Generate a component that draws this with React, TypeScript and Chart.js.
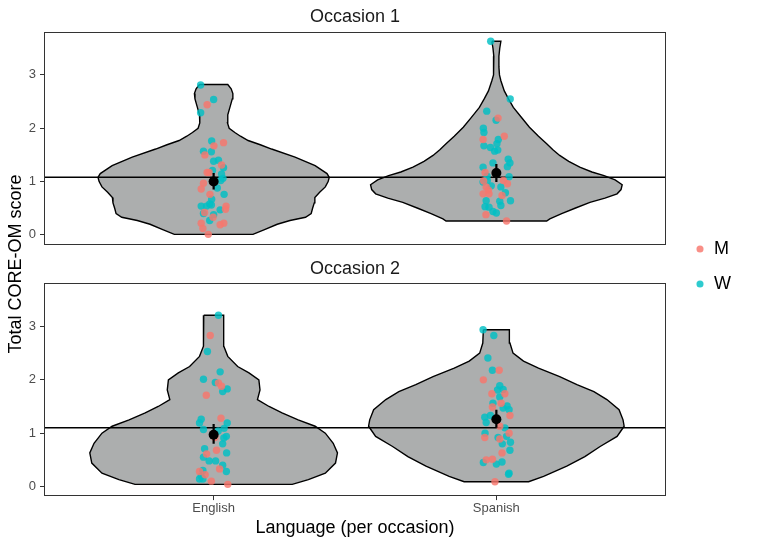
import React, { useEffect, useRef } from 'react';
import { Chart, registerables } from 'chart.js';

Chart.register(...registerables);

// ---------------- data ----------------
const categories = ['English', 'Spanish'];
const occasions = ['Occasion 1', 'Occasion 2'];
const genders = ['M', 'W'];
const yTickValues = [0, 1, 2, 3];

// horizontal reference line (overall mean) per occasion
const overallMean = [1.08, 1.1];

// mean and interval per occasion [English, Spanish]
const meanOcc1 = [1.0, 1.16];
const lowOcc1 = [0.85, 0.99];
const highOcc1 = [1.16, 1.33];
const meanOcc2 = [0.97, 1.26];
const lowOcc2 = [0.8, 1.1];
const highOcc2 = [1.17, 1.44];

// violin outlines, top to bottom: [score, half width in category units]
const violinOcc1English = [
  [2.82, 0.05], [2.74, 0.062], [2.65, 0.068], [2.55, 0.066], [2.4, 0.058], [2.25, 0.05],
  [2.1, 0.049], [2.0, 0.055], [1.92, 0.075], [1.85, 0.095], [1.77, 0.122], [1.69, 0.165],
  [1.61, 0.205], [1.46, 0.288], [1.3, 0.359], [1.15, 0.401], [1.08, 0.409], [1.0, 0.405],
  [0.9, 0.395], [0.8, 0.375], [0.7, 0.358], [0.6, 0.356], [0.5, 0.35], [0.4, 0.345],
  [0.33, 0.325], [0.27, 0.27], [0.2, 0.225], [0.1, 0.18], [0.01, 0.139],
];
const violinOcc1Spanish = [
  [3.63, 0.016], [3.5, 0.012], [3.35, 0.009], [3.15, 0.009], [3.0, 0.011], [2.89, 0.016],
  [2.7, 0.028], [2.55, 0.043], [2.39, 0.06], [2.2, 0.089], [2.02, 0.117], [1.85, 0.149],
  [1.71, 0.178], [1.6, 0.199], [1.49, 0.224], [1.38, 0.256], [1.27, 0.295], [1.18, 0.338],
  [1.11, 0.381], [1.03, 0.42], [0.94, 0.445], [0.85, 0.441], [0.77, 0.427], [0.69, 0.384],
  [0.61, 0.331], [0.5, 0.278], [0.4, 0.231], [0.3, 0.189], [0.26, 0.178],
];
const violinOcc2English = [
  [3.21, 0.035], [3.0, 0.036], [2.63, 0.036], [2.44, 0.05], [2.25, 0.085], [2.13, 0.125],
  [2.0, 0.16], [1.81, 0.164], [1.63, 0.155], [1.5, 0.196], [1.38, 0.242], [1.25, 0.299],
  [1.13, 0.359], [1.0, 0.395], [0.81, 0.423], [0.63, 0.438], [0.44, 0.431], [0.25, 0.395],
  [0.13, 0.335], [0.04, 0.278],
];
const violinOcc2Spanish = [
  [2.94, 0.046], [2.69, 0.048], [2.5, 0.059], [2.35, 0.096], [2.22, 0.149], [2.06, 0.224],
  [1.91, 0.285], [1.78, 0.345], [1.63, 0.391], [1.44, 0.434], [1.25, 0.448], [1.13, 0.452],
  [0.94, 0.427], [0.75, 0.367], [0.56, 0.313], [0.38, 0.249], [0.19, 0.167], [0.09, 0.114],
];

// jittered observations: [horizontal jitter, score]
const occ1EnglishM = [
  [-0.023, 2.44], [0.035, 1.73], [0.001, 1.67], [-0.031, 1.5], [0.028, 1.31], [-0.023, 1.17],
  [-0.016, 1.17], [-0.036, 0.97], [-0.044, 0.86], [-0.013, 0.76], [0.044, 0.54], [0.042, 0.48],
  [-0.032, 0.42], [-0.002, 0.33], [0.036, 0.22], [0.023, 0.19], [-0.044, 0.22], [-0.038, 0.12],
  [-0.019, 0.01],
];
const occ1EnglishW = [
  [-0.046, 2.81], [0.0, 2.54], [-0.046, 2.29], [-0.007, 1.76], [-0.036, 1.57], [-0.008, 1.56],
  [0.0, 1.38], [0.017, 1.4], [0.035, 1.26], [-0.004, 1.21], [0.028, 1.14], [0.033, 1.06],
  [0.013, 0.88], [0.037, 0.76], [-0.007, 0.67], [-0.014, 0.58], [-0.044, 0.54], [-0.025, 0.54],
  [0.023, 0.47], [0.0, 0.38], [-0.014, 0.27], [-0.008, 0.56], [0.025, 1.02], [-0.036, 0.4],
];
const occ1SpanishM = [
  [0.006, 2.19], [0.028, 1.85], [-0.047, 1.79], [-0.04, 1.17], [-0.045, 1.01], [0.025, 1.02],
  [0.039, 0.96], [-0.036, 0.9], [-0.028, 0.84], [-0.047, 0.77], [-0.026, 0.77], [0.02, 0.74],
  [-0.037, 0.38], [0.036, 0.26],
];
const occ1SpanishW = [
  [-0.02, 3.63], [0.049, 2.55], [-0.034, 2.32], [-0.001, 2.15], [-0.046, 2.0], [-0.044, 1.92],
  [0.007, 1.79], [0.002, 1.71], [-0.044, 1.67], [-0.021, 1.64], [-0.006, 1.57], [0.005, 1.59],
  [0.042, 1.42], [0.048, 1.35], [-0.012, 1.35], [0.039, 1.28], [-0.047, 1.27], [0.045, 1.09],
  [-0.033, 1.1], [-0.032, 1.02], [-0.047, 0.99], [-0.018, 0.92], [0.016, 0.9], [0.032, 0.79],
  [-0.036, 0.64], [0.012, 0.63], [0.05, 0.64], [0.016, 0.55], [-0.04, 0.53], [-0.026, 0.52],
  [-0.012, 0.44], [0.0, 0.41],
];
const occ2EnglishM = [
  [-0.012, 2.83], [0.017, 1.94], [0.028, 1.88], [-0.026, 1.71], [0.026, 1.28], [0.004, 0.92],
  [0.01, 0.68], [-0.025, 0.61], [0.021, 0.33], [-0.05, 0.28], [-0.03, 0.22], [-0.008, 0.1],
  [0.05, 0.04],
];
const occ2EnglishW = [
  [0.017, 3.21], [-0.022, 2.53], [0.023, 2.15], [-0.036, 2.01], [0.006, 1.95], [0.048, 1.83],
  [0.032, 1.78], [-0.044, 1.26], [-0.05, 1.19], [0.048, 1.19], [-0.036, 1.07], [0.037, 1.09],
  [0.016, 1.04], [0.045, 0.94], [0.036, 0.91], [0.032, 0.8], [-0.032, 0.71], [0.046, 0.63],
  [-0.036, 0.55], [-0.016, 0.48], [0.007, 0.48], [0.032, 0.4], [0.045, 0.28], [-0.038, 0.3],
  [-0.044, 0.19], [-0.05, 0.14], [-0.038, 0.14],
];
const occ2SpanishM = [
  [0.01, 2.18], [-0.046, 2.0], [-0.016, 1.74], [0.03, 1.74], [0.017, 1.56], [-0.014, 1.49],
  [0.048, 1.33], [0.012, 1.13], [0.045, 1.0], [-0.041, 0.92], [0.012, 0.89], [0.02, 0.63],
  [-0.036, 0.5], [-0.014, 0.51], [-0.005, 0.09],
];
const occ2SpanishW = [
  [-0.047, 2.94], [-0.009, 2.83], [-0.03, 2.41], [-0.014, 2.18], [0.012, 1.89], [0.004, 1.81],
  [0.024, 1.82], [0.012, 1.68], [-0.012, 1.56], [0.024, 1.47], [0.038, 1.51], [0.045, 1.44],
  [-0.041, 1.3], [-0.021, 1.33], [-0.036, 1.2], [0.03, 1.1], [-0.04, 1.0], [0.006, 0.92],
  [0.036, 0.94], [0.05, 0.83], [0.021, 0.8], [0.048, 0.68], [-0.046, 0.45], [0.0, 0.42],
  [0.02, 0.46], [0.045, 0.25], [0.043, 0.23],
];

// ---------------- style / layout ----------------
const FONT = "'Liberation Sans', Arial, Helvetica, sans-serif";
const W = 765;
const H = 545;
const PANEL_TOP = 31.7;
const PANEL_BOTTOM = 496.1;
const PANEL_RIGHT = 666;
const AXIS_W = 44;
const PANEL_WEIGHT = 212.8;
const GAP_WEIGHT = 38.8;
const X_MIN = 0.4;
const X_MAX = 2.6;
const Y_MIN = -0.18;
const Y_MAX = 3.81;
const RED = 'rgba(248,118,109,0.82)';
const TEAL = 'rgba(0,191,196,0.82)';
const VIOLIN_FILL = 'rgb(172,174,174)';
const AXIS_COLOR = '#333333';
const TICK_TEXT = '#4D4D4D';
const LEGEND_DOT_X = 700;
const LEGEND_FIRST_Y = 249;

function violinShape(cat: number, outline: number[][]) {
  const left = outline.map(([y, w]) => ({ x: cat - w, y }));
  const right = outline.slice().reverse().map(([y, w]) => ({ x: cat + w, y }));
  return [...left, ...right, left[0]];
}

function jitter(english: number[][], spanish: number[][]) {
  return [
    ...english.map(([dx, y]) => ({ x: 1 + dx, y })),
    ...spanish.map(([dx, y]) => ({ x: 2 + dx, y })),
  ];
}

function buildDatasets() {
  const panelsData = [
    {
      axis: 'y1',
      violins: [violinOcc1English, violinOcc1Spanish],
      m: jitter(occ1EnglishM, occ1SpanishM),
      w: jitter(occ1EnglishW, occ1SpanishW),
      mean: meanOcc1, low: lowOcc1, high: highOcc1,
      line: overallMean[0],
    },
    {
      axis: 'y2',
      violins: [violinOcc2English, violinOcc2Spanish],
      m: jitter(occ2EnglishM, occ2SpanishM),
      w: jitter(occ2EnglishW, occ2SpanishW),
      mean: meanOcc2, low: lowOcc2, high: highOcc2,
      line: overallMean[1],
    },
  ];
  const ds: any[] = [];
  panelsData.forEach((p, pi) => {
    p.violins.forEach((v, ci) => {
      ds.push({
        type: 'line',
        label: `${occasions[pi]} ${categories[ci]} violin`,
        data: violinShape(ci + 1, v),
        yAxisID: p.axis,
        xAxisID: 'x',
        borderColor: '#000000',
        borderWidth: 1.4,
        backgroundColor: VIOLIN_FILL,
        fill: 'shape',
        pointRadius: 0,
        tension: 0,
        order: 10,
      });
    });
    ds.push({
      type: 'line',
      label: `${occasions[pi]} mean line`,
      data: [{ x: X_MIN, y: p.line }, { x: X_MAX, y: p.line }],
      yAxisID: p.axis,
      xAxisID: 'x',
      borderColor: '#000000',
      borderWidth: 1.5,
      fill: false,
      pointRadius: 0,
      order: 8,
    });
    [p.m, p.w].forEach((pts, gi) => {
      const col = gi === 0 ? RED : TEAL;
      ds.push({
        type: 'scatter',
        label: genders[gi],
        inLegend: pi === 0,
        data: pts,
        yAxisID: p.axis,
        xAxisID: 'x',
        backgroundColor: col,
        borderColor: col,
        borderWidth: 0,
        pointRadius: 3.7,
        pointStyle: 'circle',
        order: 6,
      });
    });
    categories.forEach((c, ci) => {
      ds.push({
        type: 'line',
        label: `${occasions[pi]} ${c} interval`,
        data: [{ x: ci + 1, y: p.low[ci] }, { x: ci + 1, y: p.high[ci] }],
        yAxisID: p.axis,
        xAxisID: 'x',
        borderColor: '#000000',
        borderWidth: 2.2,
        fill: false,
        pointRadius: 0,
        order: 3,
      });
    });
    ds.push({
      type: 'scatter',
      label: `${occasions[pi]} means`,
      data: categories.map((c, ci) => ({ x: ci + 1, y: p.mean[ci] })),
      yAxisID: p.axis,
      xAxisID: 'x',
      backgroundColor: '#000000',
      borderColor: '#000000',
      borderWidth: 0,
      pointRadius: 5,
      order: 2,
    });
  });
  return ds;
}

const facetPlugin = {
  id: 'facetDecor',
  afterInit(chart: any) {
    const lg = chart.legend;
    if (lg) {
      const orig = lg.fit.bind(lg);
      lg.fit = () => {
        orig();
        lg.width = W - PANEL_RIGHT;
      };
    }
  },
  afterLayout(chart: any) {
    const lg = chart.legend;
    if (lg) {
      const pad = lg.options.labels.padding;
      const bw = lg.options.labels.boxWidth;
      lg.left = LEGEND_DOT_X - pad - bw / 2;
      lg.right = W;
      lg.width = lg.right - lg.left;
      const fs = lg.options.labels.font.size;
      const colH = 2 * (fs + pad);
      const cursorY = LEGEND_FIRST_Y - fs / 2;
      lg.top = 0;
      lg.bottom = 2 * cursorY - pad + colH;
      lg.height = lg.bottom;
    }
  },
  afterDraw(chart: any) {
    const { ctx, chartArea } = chart;
    ['y1', 'y2'].forEach((id, i) => {
      const s = chart.scales[id];
      ctx.save();
      ctx.strokeStyle = AXIS_COLOR;
      ctx.lineWidth = 1;
      ctx.strokeRect(
        Math.round(chartArea.left) + 0.5,
        Math.round(s.top) + 0.5,
        Math.round(chartArea.right - chartArea.left) - 1,
        Math.round(s.bottom - s.top) - 1,
      );
      ctx.fillStyle = '#1A1A1A';
      ctx.font = `18px ${FONT}`;
      ctx.textAlign = 'center';
      ctx.textBaseline = 'middle';
      ctx.fillText(occasions[i], (chartArea.left + chartArea.right) / 2, s.top - 14.7);
      ctx.restore();
    });
  },
};

function yAxis() {
  return {
    type: 'linear',
    axis: 'y',
    position: 'left',
    stack: 'facet',
    stackWeight: PANEL_WEIGHT,
    min: Y_MIN,
    max: Y_MAX,
    afterBuildTicks: (s: any) => {
      s.ticks = yTickValues.map((v) => ({ value: v }));
    },
    afterFit: (s: any) => {
      s.width = AXIS_W;
    },
    ticks: {
      font: { size: 13, family: FONT },
      color: TICK_TEXT,
      padding: 4,
      callback: (v: any) => String(v),
    },
    grid: {
      display: true,
      drawOnChartArea: false,
      drawTicks: true,
      tickLength: 4,
      color: AXIS_COLOR,
    },
    border: { display: false },
  };
}

export default function App() {
  const ref = useRef<HTMLCanvasElement | null>(null);
  useEffect(() => {
    if (!ref.current) return;
    Chart.defaults.font.family = FONT;
    const chart = new Chart(ref.current, {
      type: 'line',
      data: { datasets: buildDatasets() },
      plugins: [facetPlugin],
      options: {
        responsive: false,
        animation: false,
        devicePixelRatio: 1,
        events: [],
        layout: { padding: { top: PANEL_TOP, left: 0, right: 0, bottom: 0 } },
        scales: {
          x: {
            type: 'linear',
            position: 'bottom',
            min: X_MIN,
            max: X_MAX,
            afterBuildTicks: (s: any) => {
              s.ticks = categories.map((c, i) => ({ value: i + 1 }));
            },
            afterFit: (s: any) => {
              s.height = H - PANEL_BOTTOM;
            },
            ticks: {
              font: { size: 13, family: FONT },
              color: TICK_TEXT,
              padding: 1,
              autoSkip: false,
              maxRotation: 0,
              callback: (v: any) => categories[Math.round(v) - 1] ?? '',
            },
            grid: {
              display: true,
              drawOnChartArea: false,
              drawTicks: true,
              tickLength: 4,
              color: AXIS_COLOR,
            },
            border: { display: false },
            title: {
              display: true,
              text: 'Language (per occasion)',
              font: { size: 18, family: FONT },
              color: '#000000',
              padding: { top: 0, bottom: 6.2 },
            },
          },
          // stacked left axes are placed bottom-up: Occasion 2 first, Occasion 1 last
          y2: yAxis(),
          yGap: {
            type: 'linear',
            axis: 'y',
            position: 'left',
            stack: 'facet',
            stackWeight: GAP_WEIGHT,
            min: 0,
            max: 1,
            afterFit: (s: any) => {
              s.width = AXIS_W;
            },
            ticks: { display: false },
            grid: { display: false },
            border: { display: false },
            title: {
              display: true,
              text: 'Total CORE-OM score',
              font: { size: 18, family: FONT },
              color: '#000000',
              padding: { top: 5, bottom: 0 },
            },
          },
          y1: yAxis(),
        } as any,
        plugins: {
          tooltip: { enabled: false },
          title: { display: false },
          legend: {
            display: true,
            position: 'right',
            align: 'center',
            labels: {
              usePointStyle: true,
              boxWidth: 10,
              boxHeight: 5,
              padding: 17,
              color: '#000000',
              font: { size: 18, family: FONT },
              filter: (item: any, data: any) => data.datasets[item.datasetIndex].inLegend === true,
            },
          },
        },
      } as any,
    });
    return () => chart.destroy();
  }, []);
  return (
    <div style={{ position: 'fixed', left: 0, top: 0, width: W, height: H, background: '#ffffff' }}>
      <canvas ref={ref} width={W} height={H} style={{ display: 'block' }} />
    </div>
  );
}
